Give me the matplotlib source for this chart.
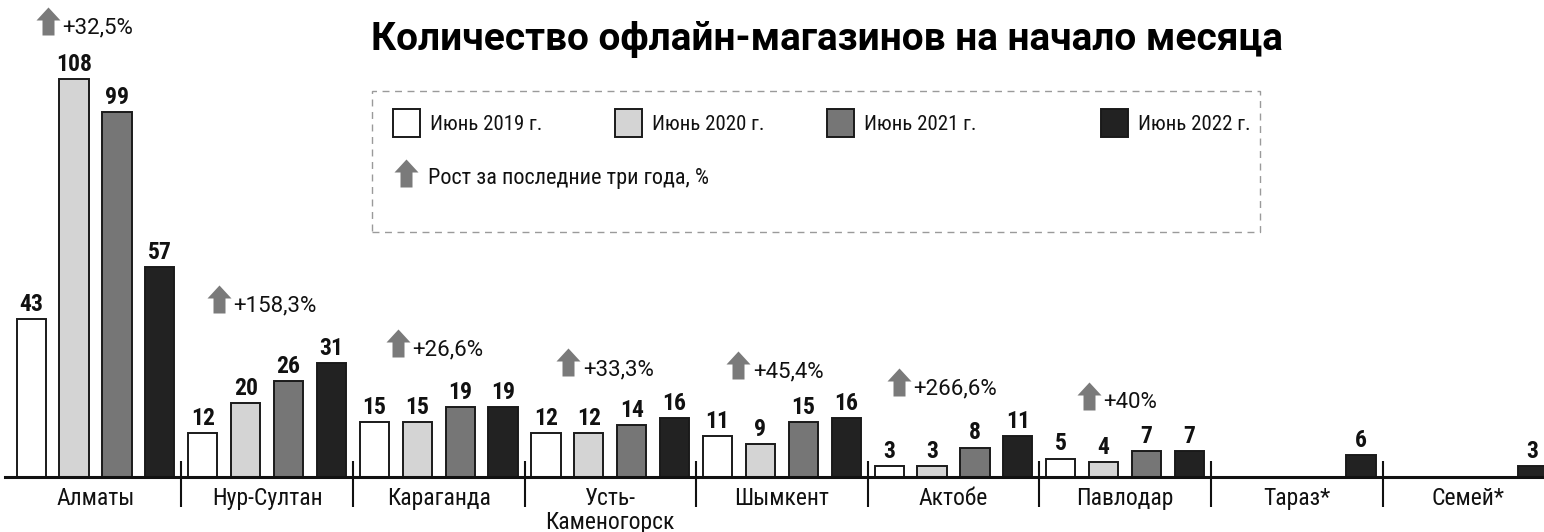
import numpy as np
import matplotlib.pyplot as plt
from matplotlib.patches import Rectangle
from matplotlib.path import Path

# ---- data ----
cities = ['Алматы', 'Нур-Султан', 'Караганда', 'Усть-\nКаменогорск', 'Шымкент',
          'Актобе', 'Павлодар', 'Тараз*', 'Семей*']
series_names = ['Июнь 2019 г.', 'Июнь 2020 г.', 'Июнь 2021 г.', 'Июнь 2022 г.']
jun2019 = [43, 12, 15, 12, 11, 3, 5, np.nan, np.nan]
jun2020 = [108, 20, 15, 12, 9, 3, 4, np.nan, np.nan]
jun2021 = [99, 26, 19, 14, 15, 8, 7, np.nan, np.nan]
jun2022 = [57, 31, 19, 16, 16, 11, 7, 6, 3]
growth = ['+32,5%', '+158,3%', '+26,6%', '+33,3%', '+45,4%', '+266,6%', '+40%']
growth_note = 'Рост за последние три года, %'
title = 'Количество офлайн-магазинов на начало месяца'

# ---- layout / style ----
W, H = 1544, 532
colors = ['#ffffff', '#d4d4d4', '#767676', '#222222']
edge = '#1a1a1a'
arrow_col = '#7a7a7a'
narrow = ['Roboto Condensed', 'Liberation Sans Narrow', 'Roboto', 'DejaVu Sans']
regular = ['Roboto', 'DejaVu Sans']
# arrow nudges from group centre (data units) and arrow centre heights
arrow_dx = [-0.277, -0.28, -0.237, -0.244, -0.253, -0.318, -0.21]
arrow_y = [123.8, 48.3, 36.4, 31.1, 30.3, 25.9, 22.1]

fig = plt.figure(figsize=(W / 100, H / 100), dpi=100)
ax = fig.add_axes([0, 0, 1, 1])
ax.set_xlim(-0.5565, 8.441)
ax.set_ylim(-14.93, 129.5)
ax.axis('off')


def fx(px):
    return px / W


def fy(py):
    return 1 - py / H


# up-arrow marker
arrow_path = Path([(0, 14), (12, 1), (6, 1), (6, -14), (-6, -14), (-6, 1), (-12, 1), (0, 14)],
                  [Path.MOVETO] + [Path.LINETO] * 6 + [Path.CLOSEPOLY])
arrow_ms = 28 * 0.72

x = np.arange(len(cities))
step = 0.25
bw = 0.17
all_series = [jun2019, jun2020, jun2021, jun2022]
for j, vals in enumerate(all_series):
    xs = x + (j - 1.5) * step
    ax.bar(xs, vals, width=bw, color=colors[j], edgecolor=edge, linewidth=1.4, zorder=3)
    for xi, v in zip(xs, vals):
        if np.isnan(v):
            continue
        ax.text(xi, v + 2.2, f'{v:g}', ha='center', va='baseline', fontsize=17,
                fontweight='bold', family=narrow, fontstretch='condensed',
                color='#111111', zorder=5)

# baseline and group separators
ax.axhline(0, xmin=5 / W, xmax=1, color='#111111', lw=2.2, zorder=4)
ax.vlines(x[:-1] + 0.5, -8.15, 4.4, color='#111111', lw=1.5, zorder=4)

for xi, name in zip(x, cities):
    # first line baseline at -7.6, following lines below it
    for k, line in enumerate(name.split('\n')):
        ax.text(xi, -7.6 - 6.5 * k, line, ha='center', va='baseline', fontsize=17,
                family=narrow, fontstretch='condensed', color='#111111')

# growth markers
for i, g in enumerate(growth):
    ax0 = x[i] + arrow_dx[i]
    ax.plot(ax0, arrow_y[i], marker=arrow_path, markersize=arrow_ms, color=arrow_col,
            markeredgewidth=0, linestyle='none', zorder=5)
    ax.text(ax0 + 0.085, arrow_y[i] - 3.4, g, ha='left', va='baseline', fontsize=16,
            family=regular, color='#111111')

# title
fig.text(fx(827), fy(50), title, ha='center', va='baseline', fontsize=28,
         fontweight='bold', family=regular, color='#000000')

# legend box
fig.patches.append(Rectangle((fx(372), fy(232)), fx(1260) - fx(372), fy(91) - fy(232),
                             transform=fig.transFigure, fill=False, edgecolor='#9a9a9a',
                             linewidth=1, linestyle=(0, (5, 4))))
leg_x = [393, 615, 827, 1101]
for lx, name, c in zip(leg_x, series_names, colors):
    fig.patches.append(Rectangle((fx(lx), fy(137)), 27 / W, 28 / H, transform=fig.transFigure,
                                 facecolor=c, edgecolor=edge, linewidth=1.4))
    fig.text(fx(lx + 37), fy(130), name, ha='left', va='baseline', fontsize=15,
             family=narrow, fontstretch='condensed', color='#111111')

fig.add_artist(plt.Line2D([fx(406)], [fy(173)], marker=arrow_path, markersize=arrow_ms,
                          color=arrow_col, markeredgewidth=0, linestyle='none',
                          transform=fig.transFigure))
fig.text(fx(428), fy(184), growth_note, ha='left', va='baseline', fontsize=16,
         family=narrow, fontstretch='condensed', color='#111111')

fig.savefig('out.png', dpi=100)
